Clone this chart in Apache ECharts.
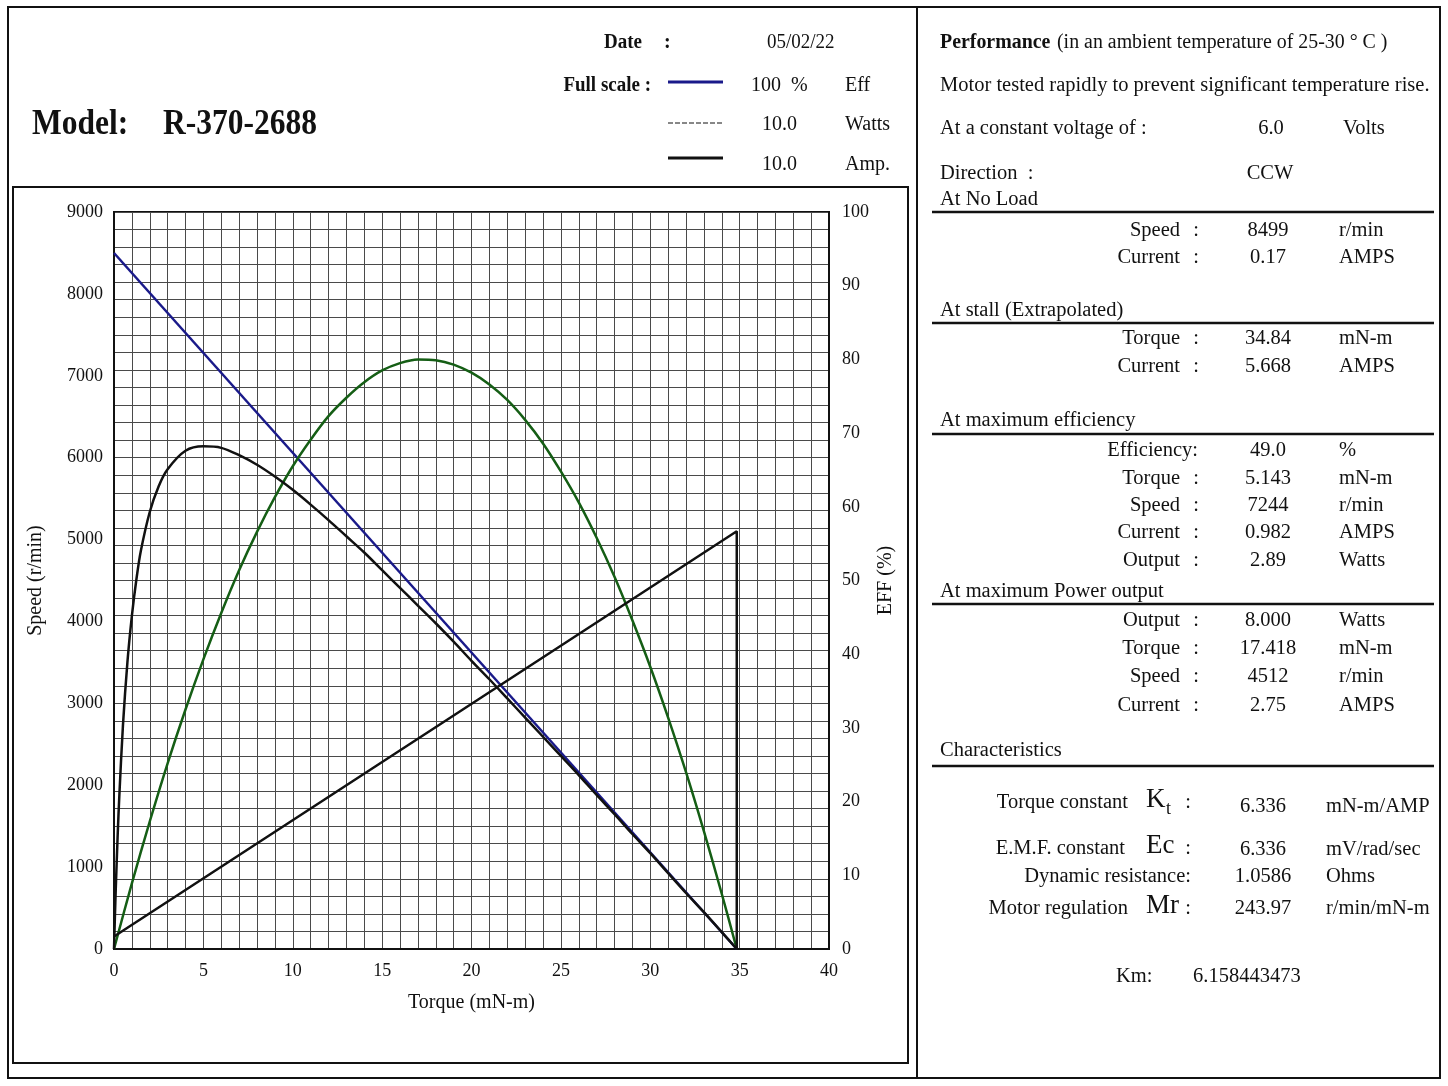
<!DOCTYPE html>
<html>
<head lang="en">
    <meta charset="UTF-8">
    <title>R-370-2688 performance</title>
    <script src="https://cdn.jsdelivr.net/npm/echarts@6/dist/echarts.min.js"></script>
    <style>
        html, body { margin: 0; padding: 0; background: #fff; }
        #sheet { width: 1448px; height: 1086px; }
    </style>
</head>
<body>
<div id="sheet"></div>

<script>
    // speed line (r/min) vs torque (mN-m)
    var speedTorque = [0, 34.84];
    var speedRpm = [8499, 0];

    // efficiency curve (%)
    var effTorque = [0, 0.05, 0.1, 0.2, 0.3, 0.5, 0.75, 1, 1.25, 1.5, 2, 2.5, 3, 4, 5, 6, 7, 8, 9, 10, 11, 12, 13, 14, 15, 16, 17, 18, 19, 20, 21, 22, 23, 24, 25, 26, 27, 28, 29, 30, 31, 32, 33, 34, 34.84];
    var effPct = [0, 4.3, 8.2, 15.1, 20.9, 30.3, 38.9, 45.2, 50.1, 54.0, 59.3, 62.8, 65.1, 67.6, 68.2, 68.0, 67.0, 65.7, 64.1, 62.3, 60.3, 58.2, 56.0, 53.8, 51.4, 49.0, 46.6, 44.2, 41.7, 39.1, 36.6, 34.0, 31.4, 28.8, 26.2, 23.6, 20.9, 18.3, 15.6, 13.0, 10.3, 7.6, 5.0, 2.3, 0];

    // output power (W), full scale 10 W
    var powerTorque = [0, 1, 2, 3, 4, 5, 6, 7, 8, 9, 10, 11, 12, 13, 14, 15, 16, 17, 18, 19, 20, 21, 22, 23, 24, 25, 26, 27, 28, 29, 30, 31, 32, 33, 34, 34.84];
    var powerW = [0, 0.89, 1.73, 2.52, 3.25, 3.93, 4.56, 5.14, 5.66, 6.13, 6.55, 6.91, 7.23, 7.48, 7.69, 7.85, 7.95, 8.0, 7.99, 7.93, 7.82, 7.66, 7.45, 7.18, 6.86, 6.48, 6.06, 5.58, 5.05, 4.46, 3.83, 3.14, 2.40, 1.60, 0.75, 0];

    // current (A), full scale 10 A
    var currentTorque = [0, 34.84, 34.84];
    var currentA = [0.17, 5.668, 0];

    function pairs(xs, ys) {
        return xs.map(function (x, i) { return [x, ys[i]]; });
    }

    var FONT = '"Liberation Serif", "Times New Roman", serif';
    var INK = '#111';

    function txt(x, y, s, size, opts) {
        opts = opts || {};
        return {
            type: 'text',
            z: 100,
            x: x, y: y,
            scaleX: opts.sx || 1,
            style: {
                text: s,
                font: (opts.bold ? 'bold ' : '') + size + 'px ' + FONT,
                fill: INK,
                textAlign: opts.align || 'left',
                align: opts.align || 'left',
                textVerticalAlign: 'middle',
                verticalAlign: 'middle'
            }
        };
    }

    function hline(x1, x2, y, w, dash, color) {
        return {
            type: 'line', z: 100,
            shape: { x1: x1, y1: y, x2: x2, y2: y },
            style: { stroke: color || INK, lineWidth: w || 2, lineDash: dash || null }
        };
    }

    // right-hand table rows: label, value, unit, y
    var noLoadRows = [['Speed', '8499', 'r/min', 231], ['Current', '0.17', 'AMPS', 258]];
    var stallRows = [['Torque', '34.84', 'mN-m', 339], ['Current', '5.668', 'AMPS', 367]];
    var effRows = [['Torque', '5.143', 'mN-m', 479], ['Speed', '7244', 'r/min', 506],
                   ['Current', '0.982', 'AMPS', 533], ['Output', '2.89', 'Watts', 561]];
    var powRows = [['Output', '8.000', 'Watts', 621], ['Torque', '17.418', 'mN-m', 649],
                   ['Speed', '4512', 'r/min', 677], ['Current', '2.75', 'AMPS', 706]];

    var F = 20.5;
    var g = [];
    // frames
    g.push({ type: 'rect', z: 90, shape: { x: 8, y: 7, width: 1432, height: 1071 },
             style: { fill: null, stroke: INK, lineWidth: 2 } });
    g.push({ type: 'rect', z: 90, shape: { x: 13, y: 187, width: 895, height: 876 },
             style: { fill: null, stroke: INK, lineWidth: 2 } });
    g.push({ type: 'line', z: 90, shape: { x1: 917, y1: 7, x2: 917, y2: 1078 },
             style: { stroke: INK, lineWidth: 2 } });

    // header
    g.push(txt(32, 125, 'Model:', 35, { bold: true, sx: 0.9 }));
    g.push(txt(163, 125, 'R-370-2688', 35, { bold: true, sx: 0.9 }));
    g.push(txt(604, 43, 'Date', 20, { bold: true, sx: 0.95 }));
    g.push(txt(664, 43, ':', 20, { bold: true }));
    g.push(txt(767, 43, '05/02/22', 20, { sx: 0.95 }));
    g.push(txt(651, 86, 'Full scale :', 20, { bold: true, align: 'right', sx: 0.95 }));
    g.push(hline(668, 723, 82, 3, null, '#1a1a8a'));
    g.push(txt(751, 86, '100  %', 20));
    g.push(txt(845, 86, 'Eff', 20));
    g.push(hline(668, 723, 123, 1, [5, 2]));
    g.push(txt(762, 125, '10.0', 20));
    g.push(txt(845, 125, 'Watts', 20));
    g.push(hline(668, 723, 158, 3));
    g.push(txt(762, 165, '10.0', 20));
    g.push(txt(845, 165, 'Amp.', 20));

    // right panel
    g.push(txt(940, 43, 'Performance', F, { bold: true, sx: 0.97 }));
    g.push(txt(1057, 43, '(in an ambient temperature of 25-30 \u00b0 C )', F, { sx: 0.97 }));
    g.push(txt(940, 86, 'Motor tested rapidly to prevent significant temperature rise.', F));
    g.push(txt(940, 129, 'At a constant voltage of :', F));
    g.push(txt(1271, 129, '6.0', F, { align: 'center' }));
    g.push(txt(1343, 129, 'Volts', F));
    g.push(txt(940, 174, 'Direction  :', F));
    g.push(txt(1270, 174, 'CCW', F, { align: 'center' }));

    var sections = [['At No Load', 200, 212], ['At stall (Extrapolated)', 311, 323],
                    ['At maximum efficiency', 421, 434], ['At maximum Power output', 592, 604],
                    ['Characteristics', 751, 766]];
    sections.forEach(function (s) {
        g.push(txt(940, s[1], s[0], F));
        g.push(hline(932, 1434, s[2], 2.5));
    });

    noLoadRows.concat(stallRows, effRows, powRows).forEach(function (r) {
        g.push(txt(1180, r[3], r[0], F, { align: 'right' }));
        g.push(txt(1196, r[3], ':', F, { align: 'center' }));
        g.push(txt(1268, r[3], r[1], F, { align: 'center' }));
        g.push(txt(1339, r[3], r[2], F));
    });
    g.push(txt(1198, 451, 'Efficiency:', F, { align: 'right' }));
    g.push(txt(1268, 451, '49.0', F, { align: 'center' }));
    g.push(txt(1339, 451, '%', F));

    // characteristics
    g.push(txt(1128, 803, 'Torque constant', F, { align: 'right' }));
    g.push(txt(1146, 800, 'K', 27));
    g.push(txt(1166, 809, 't', 18));
    g.push(txt(1188, 803, ':', F, { align: 'center' }));
    g.push(txt(1263, 807, '6.336', F, { align: 'center' }));
    g.push(txt(1326, 807, 'mN-m/AMP', F));

    g.push(txt(1125, 849, 'E.M.F. constant', F, { align: 'right' }));
    g.push(txt(1146, 846, 'Ec', 27));
    g.push(txt(1188, 849, ':', F, { align: 'center' }));
    g.push(txt(1263, 850, '6.336', F, { align: 'center' }));
    g.push(txt(1326, 850, 'mV/rad/sec', F));

    g.push(txt(1191, 877, 'Dynamic resistance:', F, { align: 'right' }));
    g.push(txt(1263, 877, '1.0586', F, { align: 'center' }));
    g.push(txt(1326, 877, 'Ohms', F));

    g.push(txt(1128, 909, 'Motor regulation', F, { align: 'right' }));
    g.push(txt(1146, 906, 'Mr', 27));
    g.push(txt(1188, 909, ':', F, { align: 'center' }));
    g.push(txt(1263, 909, '243.97', F, { align: 'center' }));
    g.push(txt(1326, 909, 'r/min/mN-m', F));

    g.push(txt(1116, 977, 'Km:', F));
    g.push(txt(1193, 977, '6.158443473', F));

    var chart = echarts.init(document.getElementById('sheet'), null, { renderer: 'canvas' });

    var labelStyle = { color: INK, fontFamily: FONT, fontSize: 18 };
    var nameStyle = { color: INK, fontFamily: FONT, fontSize: 20 };

    var option = {
        animation: false,
        backgroundColor: '#fff',
        grid: {
            left: 114, top: 212, width: 715, height: 737,
            show: true, borderColor: INK, borderWidth: 2, backgroundColor: 'transparent'
        },
        xAxis: {
            type: 'value', min: 0, max: 40, interval: 1,
            name: 'Torque (mN-m)', nameLocation: 'middle', nameGap: 44, nameTextStyle: nameStyle,
            axisLine: { show: true, lineStyle: { color: INK, width: 2 } },
            axisTick: { show: false },
            axisLabel: Object.assign({ margin: 13, formatter: function (v) { return v % 5 === 0 ? String(v) : ''; } }, labelStyle),
            splitLine: { show: true, lineStyle: { color: '#4a4a4a', width: 1 } }
        },
        yAxis: [
            {
                type: 'value', min: 0, max: 9000, interval: 1000, position: 'left',
                name: 'Speed (r/min)', nameLocation: 'middle', nameGap: 68, nameRotate: 90, nameTextStyle: nameStyle,
                axisLine: { show: true, lineStyle: { color: INK, width: 2 } },
                axisTick: { show: false },
                axisLabel: Object.assign({ margin: 11, formatter: function (v) { return String(v); } }, labelStyle),
                splitLine: { show: false }
            },
            {
                type: 'value', min: 0, max: 100, interval: 10, position: 'right',
                name: 'EFF (%)', nameLocation: 'middle', nameGap: 47, nameRotate: 90, nameTextStyle: nameStyle,
                axisLine: { show: true, lineStyle: { color: INK, width: 2 } },
                axisTick: { show: false },
                axisLabel: Object.assign({ margin: 13 }, labelStyle),
                splitLine: { show: false }
            },
            {
                // graph paper rows
                type: 'value', min: 0, max: 42, interval: 1, position: 'left',
                axisLine: { show: false }, axisTick: { show: false }, axisLabel: { show: false },
                splitLine: { show: true, lineStyle: { color: '#4a4a4a', width: 1 } }
            },
            {
                // watts / amps, full scale 10
                type: 'value', min: 0, max: 10, show: false
            }
        ],
        graphic: g,
        series: [
            {
                name: 'Speed', type: 'line', yAxisIndex: 0, symbol: 'none',
                data: pairs(speedTorque, speedRpm),
                lineStyle: { color: '#1a1a8a', width: 2.5 }
            },
            {
                name: 'Output', type: 'line', yAxisIndex: 3, symbol: 'none', smooth: 0.3,
                data: pairs(powerTorque, powerW),
                lineStyle: { color: '#155e15', width: 2.5 }
            },
            {
                name: 'Efficiency', type: 'line', yAxisIndex: 1, symbol: 'none', smooth: 0.3,
                data: pairs(effTorque, effPct),
                lineStyle: { color: INK, width: 2.5 }
            },
            {
                name: 'Current', type: 'line', yAxisIndex: 3, symbol: 'none',
                data: pairs(currentTorque, currentA),
                lineStyle: { color: INK, width: 2.5 }
            }
        ]
    };
    chart.setOption(option);
</script>
</body>
</html>
